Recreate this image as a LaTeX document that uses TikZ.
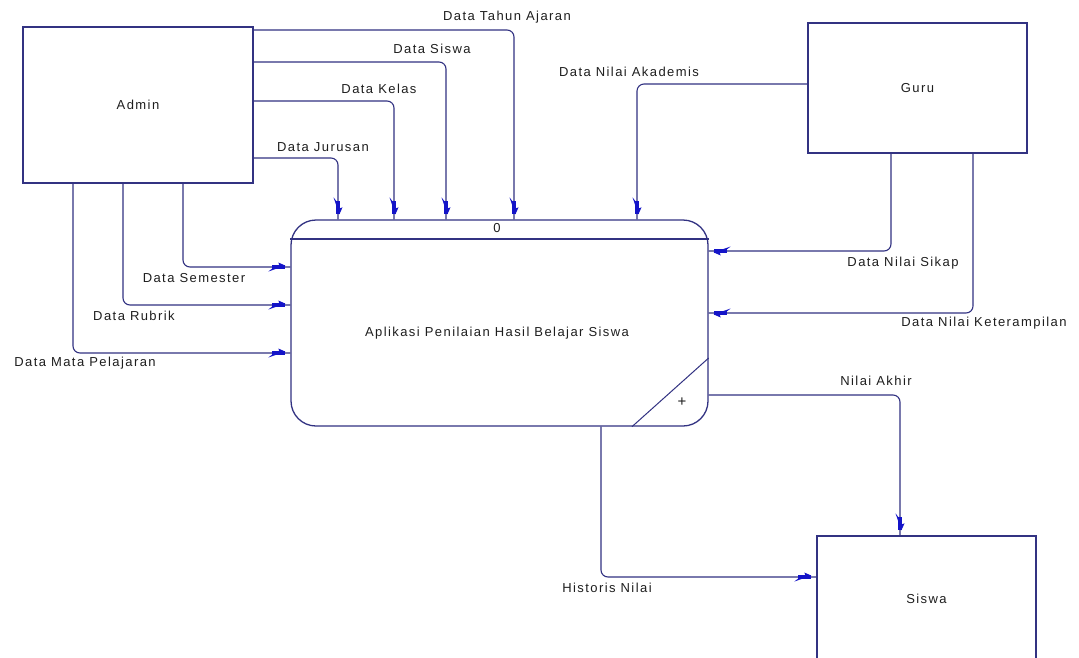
\documentclass[tikz,border=0pt]{standalone}
\usepackage{fontspec}
\setmainfont{Liberation Sans}[LetterSpace=11]
\usetikzlibrary{decorations.markings}
\definecolor{lineblue}{RGB}{50,50,130}
\definecolor{tipblue}{RGB}{20,20,200}
\definecolor{txt}{RGB}{30,30,30}
\tikzset{
  x=1pt, y=-1pt,
  entity/.style={draw=lineblue, line width=1.3pt, fill=white, minimum width=#1, inner sep=0pt, font=\fontsize{13}{15}\selectfont, text=txt},
  flow/.style={draw=lineblue, line width=1.1pt, rounded corners=7pt,
    postaction={decorate, decoration={markings, mark=at position -4pt with {
      \fill[tipblue, sharp corners] (-14pt,-1.6pt) -- (-1pt,-1.6pt) -- (-1pt,1.6pt) -- (-14pt,1.6pt) -- cycle;
      \fill[tipblue, sharp corners] (-1pt,1.4pt) -- (-8pt,4.5pt) -- (-7pt,1.4pt) -- cycle;
      \fill[tipblue, sharp corners] (-14pt,-1.4pt) -- (-18pt,-4.5pt) -- (-9pt,-1.4pt) -- cycle;
    }}}},
  lbl/.style={font=\fontsize{13}{15}\selectfont, text=txt, inner sep=0pt}
}
\begin{document}
\begin{tikzpicture}
\useasboundingbox (0,0) rectangle (1079,657);
\fill[white] (0,0) rectangle (1079,657);
% entities
\node[entity=230pt, minimum height=156pt] (admin) at (138,105) {Admin};
\node[entity=219pt, minimum height=130pt] (guru) at (917.5,88) {Guru};
\node[entity=219pt, minimum height=126pt] (siswa) at (926.5,599) {Siswa};
% process
\node[draw=lineblue, line width=1.3pt, rounded corners=25pt, minimum width=417pt, minimum height=206pt, inner sep=0pt] (proc) at (499.5,323) {};
\draw[lineblue, line width=1.1pt] (proc.west |- 0,239) -- (proc.east |- 0,239);
\draw[lineblue, line width=1pt] (proc.east |- 0,358) -- (proc.south -| 632,0);
\node[lbl] (pnum) at (497,228) {0};
\node[lbl] (ptext) at (497,333) {Aplikasi Penilaian Hasil Belajar Siswa};
\node[font=\fontsize{15}{15}\selectfont, text=txt, inner sep=0pt] (plus) at (682,402) {+};
% flows from Admin
\draw[flow] (admin.east |- 0,30) -| (proc.north -| 514,0);
\draw[flow] (admin.east |- 0,62) -| (proc.north -| 446,0);
\draw[flow] (admin.east |- 0,101) -| (proc.north -| 394,0);
\draw[flow] (admin.east |- 0,158) -| (proc.north -| 338,0);
\draw[flow] (admin.south -| 183,0) |- (proc.west |- 0,267);
\draw[flow] (admin.south -| 123,0) |- (proc.west |- 0,305);
\draw[flow] (admin.south -| 73,0) |- (proc.west |- 0,353);
% flows from Guru
\draw[flow] (guru.west |- 0,84) -| (proc.north -| 637,0);
\draw[flow] (guru.south -| 891,0) |- (proc.east |- 0,251);
\draw[flow] (guru.south -| 973,0) |- (proc.east |- 0,313);
% flows to Siswa
\draw[flow] (proc.east |- 0,395) -| (siswa.north -| 900,0);
\draw[flow] (proc.south -| 601,0) |- (siswa.west |- 0,577);
% labels
\node[lbl] (l1) at (507,17) {Data Tahun Ajaran};
\node[lbl] (l2) at (432,49) {Data Siswa};
\node[lbl] (l3) at (379,89) {Data Kelas};
\node[lbl] (l4) at (323,147) {Data Jurusan};
\node[lbl] (l5) at (629,72) {Data Nilai Akademis};
\node[lbl] (l6) at (194,278) {Data Semester};
\node[lbl] (l7) at (134,316) {Data Rubrik};
\node[lbl] (l8) at (85,363) {Data Mata Pelajaran};
\node[lbl] (l9) at (903,263) {Data Nilai Sikap};
\node[lbl] (l10) at (984,323) {Data Nilai Keterampilan};
\node[lbl] (l11) at (876,381) {Nilai Akhir};
\node[lbl] (l12) at (607,588) {Historis Nilai};
\end{tikzpicture}
\end{document}
